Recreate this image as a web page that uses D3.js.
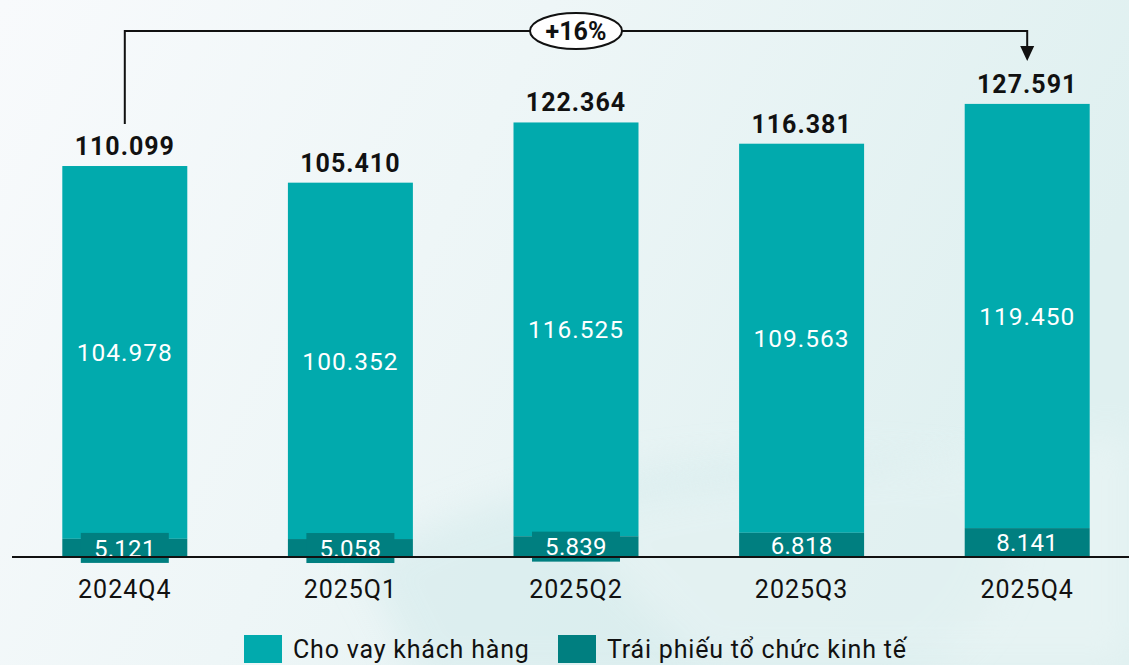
<!DOCTYPE html>
<html>
<head>
<meta charset="utf-8">
<script src="https://cdn.jsdelivr.net/npm/d3@7"></script>
<style>
  html, body { margin: 0; padding: 0; overflow: hidden; }
  body { width: 1129px; height: 665px; }
  text { font-family: Roboto, "Noto Sans", sans-serif; }
</style>
</head>
<body>
<div id="chart"></div>
<script>
// data
var quarters = ["2024Q4", "2025Q1", "2025Q2", "2025Q3", "2025Q4"];
var loans = [104.978, 100.352, 116.525, 109.563, 119.450];
var bonds = [5.121, 5.058, 5.839, 6.818, 8.141];
var totals = [110.099, 105.410, 122.364, 116.381, 127.591];
var seriesNames = ["Cho vay khách hàng", "Trái phiếu tổ chức kinh tế"];
var growthLabel = "+16%";

var fmt = d3.format(".3f");
function viNum(v) { return fmt(v); } // dot used as thousands separator in source

var width = 1129, height = 665;
var colLoan = "#01aaad", colBond = "#007f80";

var svg = d3.select("#chart").append("svg")
    .attr("width", width)
    .attr("height", height);

// background
var defs = svg.append("defs");
var bg = defs.append("linearGradient").attr("id", "bg")
    .attr("x1", "0").attr("y1", "0").attr("x2", "1").attr("y2", "0.3");
bg.append("stop").attr("offset", "0").attr("stop-color", "#f8fafc");
bg.append("stop").attr("offset", "0.45").attr("stop-color", "#eef6f7");
bg.append("stop").attr("offset", "1").attr("stop-color", "#dff0f0");
var sw = defs.append("filter").attr("id", "blur").attr("x", "-20%").attr("y", "-20%")
    .attr("width", "140%").attr("height", "140%");
sw.append("feGaussianBlur").attr("stdDeviation", 18);

svg.append("rect").attr("width", width).attr("height", height).attr("fill", "url(#bg)");
svg.append("path")
    .attr("d", "M360,560 C520,470 760,440 980,470 C1040,520 1000,640 900,680 L420,680 Z")
    .attr("fill", "#d3eaeb").attr("opacity", 0.55).attr("filter", "url(#blur)");
svg.append("path")
    .attr("d", "M560,520 C700,470 860,480 1129,430 L1129,665 L700,665 Z")
    .attr("fill", "#f4f9f9").attr("opacity", 0.35).attr("filter", "url(#blur)");

// scales
var x = d3.scaleBand().domain(quarters).range([12, 1140]).paddingInner(0.446).paddingOuter(0.223);
var y = d3.scaleLinear().domain([0, 156.85]).range([557, 0]);

var g = svg.append("g");
var bars = g.selectAll(".bar").data(quarters).enter().append("g").attr("class", "bar");

// light segment
bars.append("rect")
    .attr("x", function(d) { return x(d); })
    .attr("width", x.bandwidth())
    .attr("y", function(d, i) { return y(bonds[i] + loans[i]); })
    .attr("height", function(d, i) { return y(bonds[i]) - y(bonds[i] + loans[i]); })
    .attr("fill", colLoan);

// dark segment
bars.append("rect")
    .attr("x", function(d) { return x(d); })
    .attr("width", x.bandwidth())
    .attr("y", function(d, i) { return y(bonds[i]); })
    .attr("height", function(d, i) { return y(0) - y(bonds[i]); })
    .attr("fill", colBond);

// axis baseline
g.append("line")
    .attr("x1", 12).attr("x2", width)
    .attr("y1", y(0)).attr("y2", y(0))
    .attr("stroke", "#111").attr("stroke-width", 2);

// label box for small dark segments
bars.filter(function(d, i) { return y(0) - y(bonds[i]) < 22; })
    .append("rect")
    .attr("x", function(d) { return x(d) + x.bandwidth() / 2 - 44; })
    .attr("width", 88)
    .attr("y", function(d, i) { return (y(0) + y(bonds[i])) / 2 - 15; })
    .attr("height", 30)
    .attr("fill", colBond);

// values inside
bars.append("text")
    .attr("x", function(d) { return x(d) + x.bandwidth() / 2; })
    .attr("y", function(d, i) { return (y(bonds[i]) + y(bonds[i] + loans[i])) / 2; })
    .attr("dy", "0.36em")
    .attr("text-anchor", "middle")
    .attr("fill", "#fff")
    .style("font-size", "24.5px")
    .style("letter-spacing", "1px")
    .text(function(d, i) { return viNum(loans[i]); });

bars.append("text")
    .attr("x", function(d) { return x(d) + x.bandwidth() / 2; })
    .attr("y", function(d, i) { return (y(0) + y(bonds[i])) / 2; })
    .attr("dy", "0.36em")
    .attr("text-anchor", "middle")
    .attr("fill", "#fff")
    .style("font-size", "24px")
    .style("letter-spacing", "0.3px")
    .text(function(d, i) { return viNum(bonds[i]); });

// totals
bars.append("text")
    .attr("x", function(d) { return x(d) + x.bandwidth() / 2; })
    .attr("y", function(d, i) { return y(totals[i]) - 11; })
    .attr("text-anchor", "middle")
    .attr("fill", "#111")
    .style("font-size", "25px")
    .style("font-weight", "bold")
    .style("letter-spacing", "1px")
    .text(function(d, i) { return viNum(totals[i]); });

// category labels
bars.append("text")
    .attr("x", function(d) { return x(d) + x.bandwidth() / 2; })
    .attr("y", 598)
    .attr("text-anchor", "middle")
    .attr("fill", "#111")
    .style("font-size", "25px")
    .style("letter-spacing", "1px")
    .text(function(d) { return d; });

// growth bracket
var xa = x(quarters[0]) + x.bandwidth() / 2;
var xb = x(quarters[4]) + x.bandwidth() / 2;
var topY = 31;
g.append("path")
    .attr("d", "M" + xa + "," + (y(totals[0]) - 42) + "V" + topY + "H" + xb + "V48")
    .attr("fill", "none").attr("stroke", "#111").attr("stroke-width", 2);
g.append("path")
    .attr("d", "M" + (xb - 7) + ",46L" + (xb + 7) + ",46L" + xb + ",61Z")
    .attr("fill", "#111");
var mid = (xa + xb) / 2;
g.append("ellipse")
    .attr("cx", mid).attr("cy", topY).attr("rx", 46).attr("ry", 18)
    .attr("fill", "#fff").attr("stroke", "#111").attr("stroke-width", 2);
g.append("text")
    .attr("x", mid).attr("y", topY).attr("dy", "0.36em")
    .attr("text-anchor", "middle")
    .attr("fill", "#111")
    .style("font-size", "25px")
    .style("font-weight", "bold")
    .text(growthLabel);

// legend
var legend = svg.append("g");
var lx = [244, 558];
var lc = [colLoan, colBond];
seriesNames.forEach(function(name, i) {
    legend.append("rect").attr("x", lx[i]).attr("y", 635).attr("width", 38).attr("height", 28).attr("fill", lc[i]);
    legend.append("text").attr("x", lx[i] + 49).attr("y", 658)
        .attr("fill", "#111")
        .style("font-size", "25px")
        .style("letter-spacing", "0.8px")
        .text(name);
});
</script>
</body>
</html>
